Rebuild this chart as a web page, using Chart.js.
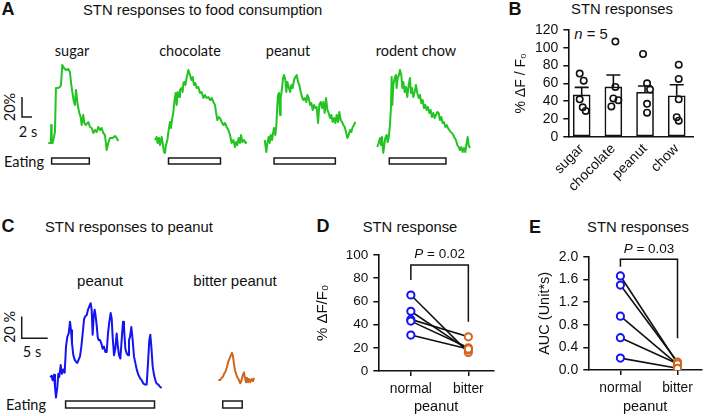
<!DOCTYPE html>
<html>
<head>
<meta charset="utf-8">
<script src="https://cdn.jsdelivr.net/npm/chart.js@4.4.1/dist/chart.umd.min.js"></script>
<style>
  body { margin:0; width:708px; height:416px; position:relative; overflow:hidden; background:#fff; color:#111;
         font-family:"Liberation Sans", Arial, sans-serif; }
  canvas { position:absolute; }
  .t { position:absolute; white-space:nowrap; line-height:1; transform:translate(-50%,-50%); }
  .t.l { transform:translate(0,-50%); }
  .t.rot { transform:translate(-50%,-50%) rotate(-90deg); }
  .pl { font-weight:bold; font-size:18px; }
  .ti { font-size:14.8px; }
  .cal { font-family:Lato, sans-serif; font-size:14.5px; }
  .ar { font-size:15px; }
</style>
</head>
<body>

<!-- panel A -->
<div class="t pl" style="left:8px;top:9px">A</div>
<div class="t l ti" style="left:83px;top:10px">STN responses to food consumption</div>
<div class="t cal" style="left:72px;top:51px">sugar</div>
<div class="t cal" style="left:190px;top:51px">chocolate</div>
<div class="t cal" style="left:288px;top:51px">peanut</div>
<div class="t cal" style="left:416px;top:51px">rodent chow</div>
<div class="t cal rot" style="left:10px;top:107px">20%</div>
<div class="t cal" style="left:28px;top:132px">2 s</div>
<div class="t cal" style="left:24px;top:162px">Eating</div>

<!-- panel B -->
<div class="t pl" style="left:515px;top:9px">B</div>
<div class="t ti" style="left:622px;top:9px">STN responses</div>
<div class="t ti" style="left:591px;top:34px"><i>n</i> = 5</div>

<!-- panel C -->
<div class="t pl" style="left:8px;top:226px">C</div>
<div class="t l ti" style="left:45px;top:227px">STN responses to peanut</div>
<div class="t ar" style="left:100px;top:280px">peanut</div>
<div class="t ar" style="left:235px;top:280px">bitter peanut</div>
<div class="t cal rot" style="left:10px;top:327px">20 %</div>
<div class="t cal" style="left:32px;top:352px">5 s</div>
<div class="t cal" style="left:26px;top:405px">Eating</div>

<!-- panel D / E -->
<div class="t pl" style="left:323px;top:226px">D</div>
<div class="t ti" style="left:410px;top:227px">STN response</div>
<div class="t pl" style="left:535px;top:227px">E</div>
<div class="t ti" style="left:638px;top:227px">STN responses</div>

<script>
Chart.defaults.font.family = '"Liberation Sans", Arial, sans-serif';
Chart.defaults.color = '#111';

// ---------------- DATA ----------------

// A: fiber photometry traces (time s, dF/F %)
const sugarT = [0,0.53,0.57,0.67,0.87,1.33,1.53,2.0,2.33,2.53,2.8,3.13,3.53,4.0,4.33,4.53,4.8,5.13,5.33,5.53,5.67,5.87,6.2,6.47,6.67,7.0,7.2,7.53,8.0,8.33,8.67,9.0,9.33,9.67,10.0,10.33,10.67,11.0,11.33,11.67,12.0,12.33,12.87,13.33,13.67,14.0];
const sugarV = [0,0,18,0,0,11,55,55,56,58,78,75,73,74,71,61,51,41,38,53,48,38,30,26,18,28,20,18,21,16,15,10,13,11,16,13,15,10,8,-7,0,5,5,7,5,2];

const chocT = [0,0.33,0.53,0.8,1.0,1.33,1.53,1.8,2.0,2.2,2.47,2.73,3.0,3.2,3.4,3.67,3.87,4.13,4.33,4.53,4.8,5.0,5.27,5.53,5.67,5.87,6.07,6.33,6.67,7.0,7.27,7.53,7.8,8.07,8.33,8.67,9.0,9.33,9.67,10.0,10.33,10.67,11.0,11.33,11.67,12.0,12.2,12.47,12.73,13.0,13.33,13.67,14.0,14.33,14.67,15.0,15.33,15.67,16.0,16.2,16.47,16.73,17.0,17.2,17.47,17.8,18.13,18.33];
const chocV = [3,6,0,5,-2,6,0,-9,-10,-2,3,13,21,15,23,31,41,50,38,51,46,53,55,51,60,61,58,65,73,68,63,66,58,60,55,56,50,51,45,48,45,46,43,45,41,38,31,23,26,25,21,18,20,16,13,8,0,3,-4,1,-2,5,0,8,1,3,0,1];

const peanutT = [0,0.13,0.33,0.53,0.8,1.0,1.2,1.47,1.67,1.87,2.13,2.33,2.53,2.67,2.87,3.07,3.2,3.47,3.67,3.87,4.13,4.33,4.53,4.8,5.07,5.33,5.6,5.87,6.13,6.4,6.67,6.93,7.2,7.47,7.73,8.0,8.33,8.53,8.8,9.07,9.33,9.6,9.87,10.13,10.4,10.67,10.93,11.2,11.47,11.73,12.0,12.27,12.53,12.8,13.07,13.33,13.6,13.87,14.13,14.4,14.67,14.93,15.2,15.47,15.73,16.0,16.27,16.53,16.8,17.07,17.33,17.6,17.87,18.13];
const peanutV = [3,-2,-9,0,6,0,8,3,10,15,8,18,38,48,50,28,45,55,65,68,63,51,61,56,51,58,55,63,66,68,61,58,51,46,43,45,41,48,45,38,40,33,38,35,36,20,38,41,35,41,30,45,33,30,25,28,21,25,20,28,21,31,23,21,18,16,11,5,8,13,11,16,18,21];

const chowT = [0,0.27,0.53,0.73,0.93,1.2,1.4,1.6,1.87,2.07,2.27,2.53,2.73,2.87,3.0,3.2,3.47,3.73,3.87,4.07,4.33,4.53,4.8,5.0,5.2,5.47,5.73,6.0,6.27,6.53,6.73,6.93,7.2,7.47,7.73,8.0,8.27,8.53,8.8,9.07,9.33,9.6,9.87,10.13,10.4,10.67,10.93,11.2,11.47,11.73,12.0,12.27,12.53,12.8,13.07,13.33,13.6,13.87,14.13,14.4,14.67,14.93,15.2,15.47,15.73,16.0,16.27,16.53,16.8,17.07,17.33,17.6,17.87,18.07,18.27,18.53];
const chowV = [-4,0,5,-2,6,-10,-2,5,8,1,5,18,35,66,38,58,65,68,55,65,68,73,68,55,61,51,56,46,58,65,50,55,46,51,58,50,45,48,40,43,35,38,33,36,30,33,26,30,25,28,31,30,23,26,20,21,16,18,15,13,11,10,8,5,3,-2,-4,-7,-4,-9,-5,-9,0,6,-2,-5];

// eating periods (s)
const eatSugar = [0.67, 8.2];
const eatChoc = [2.7, 13.1];
const eatPeanut = [1.87, 14.13];
const eatChow = [2.4, 13.73];

// C: peanut vs bitter peanut traces
const normT = [0,0.32,0.51,0.77,0.96,1.15,1.41,1.6,1.79,2.05,2.31,2.56,2.82,3.08,3.33,3.59,3.85,4.04,4.23,4.49,4.74,5.0,5.26,5.51,5.77,6.03,6.28,6.54,6.79,7.05,7.31,7.56,7.82,8.01,8.2,8.4,8.59,8.78,8.97,9.17,9.36,9.62,9.87,10.13,10.38,10.64,10.9,11.15,11.41,11.67,11.86,12.05,12.31,12.56,12.82,13.01,13.27,13.53,13.78,14.04,14.23,14.49,14.74,15.0,15.19,15.38,15.64,15.9,16.15,16.41,16.67,16.99,17.31,17.63,17.95,18.27,18.59,18.85,19.1,19.29,19.49,19.74,20.0,20.26,20.51,20.83,21.15,21.47];
const normV = [0,1,-3,2,-9,-19,-9,3,0,11,3,7,4,28,37,40,51,43,31,20,16,14,13,16,19,28,40,53,56,57,62,65,68,62,39,56,62,56,48,37,34,34,31,26,28,23,23,40,51,59,54,37,20,26,40,30,20,17,34,51,46,26,22,20,34,37,46,34,19,13,7,2,-1,-3,-6,-7,-7,13,34,39,28,10,2,-3,-6,-7,-9,-10];
const bitterT = [0,0.38,0.64,0.9,1.15,1.41,1.67,1.92,2.18,2.44,2.63,2.82,3.01,3.21,3.46,3.72,3.97,4.23,4.49,4.74,4.94,5.13,5.32,5.51,5.71,5.9,6.15,6.41,6.67,6.86];
const bitterV = [0,0,2,3,6,8,12,17,20,23,25,22,15,9,5,2,0,-3,0,5,7,2,-2,2,-2,1,-2,1,-1,2];
const eatNorm = [3.0, 20.1];
const eatBitter = [0.85, 4.6];

// B: peak responses per food
const foods = ["sugar", "chocolate", "peanut", "chow"];
const foodMean = [47, 56, 50, 46];
const foodSem = [8.5, 13.4, 7, 12.4];
const dotsSugar = [71, 63, 42, 33, 29];
const dotsChoc = [107, 56, 41, 34, 43];
const dotsPeanut = [93, 60, 53, 37, 27];
const dotsChow = [81, 65, 42, 22, 18];

// D / E: paired normal vs bitter peanut
const pairCats = ["normal", "bitter"];
const peakNormal = [65.5, 51.5, 44.5, 43, 31];
const peakBitter = [16, 18, 29.5, 20, 19];
const aucNormal = [1.66, 1.5, 0.95, 0.57, 0.21];
const aucBitter = [0.12, 0.14, 0.1, 0.11, 0.03];

// ---------------- LAYOUT ----------------

const GREEN = "#22c422";
const BLUE = "#1414f2";
const ORANGE = "#d0661e";
const INK = "#111";

function addCanvas(left, top, w, h){
    const cv = document.createElement("canvas");
    cv.width = w; cv.height = h;
    cv.style.left = left + "px"; cv.style.top = top + "px";
    document.body.appendChild(cv);
    return cv;
}

// trace with eating box, scales hidden; t0/v0 are page pixels of (0 s, 0 %)
function makeTrace(box, t, v, color, eat, scaleBar){
    const cv = addCanvas(box.left, box.top, box.w, box.h);
    const xmin = (box.left - box.t0) * box.sPx;
    const ymin = -(box.top + box.h - box.v0) * box.vPx;

    const marks = {
        id: "marks",
        afterDatasetsDraw(chart){
            const {ctx, scales:{x, y}} = chart;
            ctx.save();
            ctx.strokeStyle = "#1a1a1a";
            ctx.lineWidth = 1.5;
            const x0 = x.getPixelForValue(eat[0]), x1 = x.getPixelForValue(eat[1]);
            ctx.fillStyle = "#fff";
            ctx.fillRect(x0, box.eatTop - box.top, x1 - x0, box.eatH);
            ctx.strokeRect(x0, box.eatTop - box.top, x1 - x0, box.eatH);
            if(scaleBar){
                const px = x.getPixelForValue(scaleBar.t), py = y.getPixelForValue(scaleBar.v);
                ctx.beginPath();
                ctx.moveTo(px, y.getPixelForValue(scaleBar.v + scaleBar.dv));
                ctx.lineTo(px, py);
                ctx.lineTo(x.getPixelForValue(scaleBar.t + scaleBar.dt), py);
                ctx.stroke();
            }
            ctx.restore();
        }
    };

    new Chart(cv, {
        type: "scatter",
        data: {
            datasets: [{
                data: t.map((ti, i) => ({x: ti, y: v[i]})),
                showLine: true,
                borderColor: color,
                borderWidth: 2,
                borderJoinStyle: "round",
                pointRadius: 0,
                pointHoverRadius: 0,
                clip: false
            }]
        },
        options: {
            responsive: false, animation: false, devicePixelRatio: 1, events: [],
            layout: {padding: 0},
            scales: {
                x: {type: "linear", display: false, min: xmin, max: xmin + box.w * box.sPx},
                y: {type: "linear", display: false, min: ymin, max: ymin + box.h * box.vPx}
            },
            plugins: {legend: {display: false}, tooltip: {enabled: false}}
        },
        plugins: [marks]
    });
}

// panel A: 0.2 s and 1 % per pixel
const aBox = {top: 55, h: 120, v0: 143, sPx: 0.2, vPx: 1, eatTop: 158, eatH: 6};
makeTrace({...aBox, left: 0, w: 125, t0: 48.3}, sugarT, sugarV, GREEN, eatSugar,
          {t: -5.26, v: 26, dt: 2, dv: 20});
makeTrace({...aBox, left: 145, w: 112, t0: 155}, chocT, chocV, GREEN, eatChoc);
makeTrace({...aBox, left: 257, w: 108, t0: 264.7}, peanutT, peanutV, GREEN, eatPeanut);
makeTrace({...aBox, left: 368, w: 112, t0: 377.3}, chowT, chowV, GREEN, eatChow);

// panel C: 5 s = 26 px, 20 % = 21.7 px
const cBox = {top: 290, h: 126, sPx: 5 / 26, vPx: 20 / 21.7, eatTop: 401, eatH: 7};
makeTrace({...cBox, left: 0, w: 175, t0: 50, v0: 377}, normT, normV, BLUE, eatNorm,
          {t: -5.44, v: 35.7, dt: 5, dv: 20});
makeTrace({...cBox, left: 205, w: 60, t0: 218.3, v0: 380}, bitterT, bitterV, ORANGE, eatBitter);

// ---------------- AXES HELPERS ----------------

function yAxis(min, max, step, size, title, titleSize, width, digits){
    return {
        type: "linear", min, max,
        afterFit: s => { s.width = width; },
        ticks: {stepSize: step, autoSkip: false, padding: 5, color: INK, font: {size},
                callback: v => digits ? v.toFixed(digits) : v},
        grid: {drawOnChartArea: false, drawTicks: true, tickLength: 5, color: INK, lineWidth: 1.5},
        border: {display: true, color: INK, width: 1.6},
        title: {display: true, text: title, color: INK, font: {size: titleSize}, padding: {top: 0, bottom: 0}}
    };
}

// ---------------- PANEL B ----------------

const dotSets = [dotsSugar, dotsChoc, dotsPeanut, dotsChow];
const dotJitterPx = [[-2, 2, -2, 1, 4], [2, 2, 5, -2, 0], [-2, 2, 5, 2, 2], [2, 2, 2, 0, 2]];
const bSlot = 31.67;

const errBars = {
    id: "errBars",
    afterDatasetsDraw(chart){
        const {ctx, scales:{x, y}} = chart;
        ctx.save();
        ctx.strokeStyle = INK; ctx.lineWidth = 1.6;
        foodMean.forEach((m, i) => {
            const px = x.getPixelForValue(i);
            const y0 = y.getPixelForValue(m), y1 = y.getPixelForValue(m + foodSem[i]);
            ctx.beginPath();
            ctx.moveTo(px, y0); ctx.lineTo(px, y1);
            ctx.moveTo(px - 7, y1); ctx.lineTo(px + 7, y1);
            ctx.stroke();
        });
        ctx.restore();
    }
};

new Chart(addCanvas(500, 0, 208, 200), {
    data: {
        datasets: [
            {
                type: "scatter",
                data: dotSets.flatMap((d, i) => d.map((v, k) => ({x: i + dotJitterPx[i][k] / bSlot, y: v}))),
                pointRadius: 3.2, pointBorderWidth: 1.6,
                pointBorderColor: INK, pointBackgroundColor: "rgba(255,255,255,0)"
            },
            {
                type: "bar",
                data: foodMean.map((m, i) => ({x: i, y: m})),
                backgroundColor: "#fff", borderColor: INK, borderWidth: 1.6,
                borderSkipped: false, barThickness: 17
            }
        ]
    },
    options: {
        responsive: false, animation: false, devicePixelRatio: 1, events: [],
        layout: {padding: {left: 13, top: 30, right: 14.7, bottom: 0}},
        scales: {
            x: {
                type: "linear", min: -0.423, max: 3.524, offset: false,
                afterBuildTicks: s => { s.ticks = foods.map((f, i) => ({value: i})); },
                afterFit: s => { s.height = 63.3; },
                ticks: {autoSkip: false, minRotation: 45, maxRotation: 45, padding: 4,
                        color: INK, font: {size: 14}, callback: v => foods[v]},
                grid: {display: false, drawTicks: false},
                border: {display: true, color: INK, width: 1.6}
            },
            y: yAxis(0, 120, 20, 14, "% \u0394F / F\u2080", 14, 55.3)
        },
        plugins: {legend: {display: false}, tooltip: {enabled: false}}
    },
    plugins: [errBars]
});

// ---------------- PANELS D, E ----------------

function bracket(b){
    return {
        id: "bracket",
        afterDraw(chart){
            const {ctx, scales:{x, y}} = chart;
            const xa = x.getPixelForValue(0), xb = x.getPixelForValue(1);
            const yt = y.getPixelForValue(b.yTop);
            ctx.save();
            ctx.strokeStyle = INK; ctx.lineWidth = 1.5;
            ctx.beginPath();
            ctx.moveTo(xa, y.getPixelForValue(b.yL));
            ctx.lineTo(xa, yt); ctx.lineTo(xb, yt);
            ctx.lineTo(xb, y.getPixelForValue(b.yR));
            ctx.stroke();
            const f = '13.5px "Liberation Sans", Arial, sans-serif';
            ctx.fillStyle = INK;
            ctx.font = "italic " + f; const w1 = ctx.measureText("P").width;
            ctx.font = f; const w2 = ctx.measureText(b.text).width;
            const sx = (xa + xb) / 2 - (w1 + w2) / 2;
            ctx.font = "italic " + f; ctx.fillText("P", sx, yt - b.gap);
            ctx.font = f; ctx.fillText(b.text, sx + w1, yt - b.gap);
            ctx.restore();
        }
    };
}

function makePaired(cfg, normal, bitter){
    const datasets = [
        {type: "scatter", data: normal.map(v => ({x: 0, y: v})), pointRadius: 3.6, pointBorderWidth: 2,
         pointBorderColor: BLUE, pointBackgroundColor: "#fff"},
        {type: "scatter", data: bitter.map(v => ({x: 1, y: v})), pointRadius: 3.6, pointBorderWidth: 2,
         pointBorderColor: ORANGE, pointBackgroundColor: "#fff"}
    ];
    normal.forEach((v, i) => datasets.push({
        type: "scatter", showLine: true, data: [{x: 0, y: v}, {x: 1, y: bitter[i]}],
        borderColor: INK, borderWidth: 1.6, pointRadius: 0
    }));

    new Chart(addCanvas(cfg.left, cfg.top, cfg.w, cfg.h), {
        data: {datasets},
        options: {
            responsive: false, animation: false, devicePixelRatio: 1, events: [],
            layout: {padding: cfg.pad},
            scales: {
                x: {
                    type: "linear", min: cfg.xmin, max: cfg.xmax,
                    afterBuildTicks: s => { s.ticks = [{value: 0}, {value: 1}]; },
                    afterFit: s => { s.height = cfg.xH; },
                    ticks: {autoSkip: false, maxRotation: 0, padding: 5, color: INK, font: {size: 13.8},
                            callback: v => pairCats[v]},
                    grid: {drawOnChartArea: false, drawTicks: true, tickLength: 5, color: INK, lineWidth: 1.5},
                    border: {display: true, color: INK, width: 1.6},
                    title: {display: true, text: "peanut", color: INK, font: {size: 14.5}, padding: {top: 0, bottom: 0}}
                },
                y: cfg.y
            },
            plugins: {legend: {display: false}, tooltip: {enabled: false}}
        },
        plugins: [bracket(cfg.bracket)]
    });
}

makePaired({
    left: 300, top: 196, w: 200, h: 220,
    pad: {left: 14, top: 59, right: 3, bottom: 0}, xH: 45,
    xmin: -0.566, xmax: 1.446,
    y: yAxis(0, 100, 20, 13.5, "% \u0394F/F\u2080", 15, 64.3),
    bracket: {yL: 78.4, yTop: 91.4, yR: 42.5, text: " = 0.02", gap: 7}
}, peakNormal, peakBitter);

makePaired({
    left: 500, top: 196, w: 208, h: 220,
    pad: {left: 36.3, top: 60.7, right: 5, bottom: 0}, xH: 46,
    xmin: -0.5625, xmax: 1.429,
    y: yAxis(0, 2, 0.4, 14, "AUC (Unit*s)", 14.5, 52, 1),
    bracket: {yL: 1.823, yTop: 1.953, yR: 0.559, text: " = 0.03", gap: 6.5}
}, aucNormal, aucBitter);
</script>
</body>
</html>
